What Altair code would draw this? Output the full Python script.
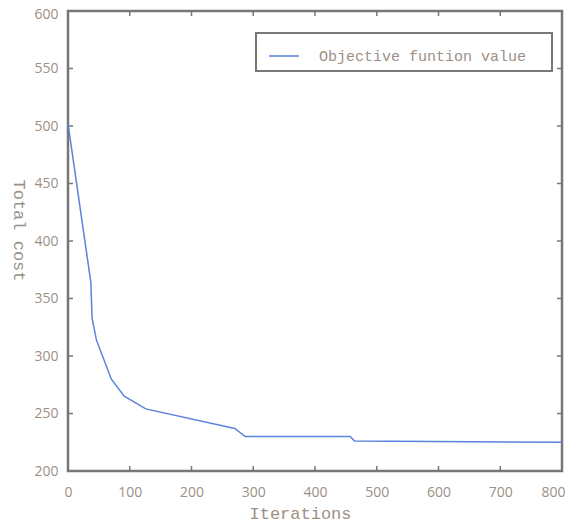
import altair as alt
import pandas as pd

# Data
iterations = [0, 37, 39, 46, 70, 91, 126, 270, 287, 457, 464, 800]
total_cost = [502, 364, 333, 314, 280, 265, 254, 237, 230, 230, 226, 225]
series_name = "Objective funtion value"

x_ticks = [0, 100, 200, 300, 400, 500, 600, 700, 800]
y_ticks = [200, 250, 300, 350, 400, 450, 500, 550, 600]

W, H = 494, 460
LINE_COLOR = "#5b82dc"
FRAME = "#777777"
TEXT = "#9c9085"
MONO = "Liberation Mono"
SANS = "Open Sans"

df = pd.DataFrame({"it": iterations, "cost": total_cost, "s": [series_name] * len(iterations)})
xt = pd.DataFrame({"v": x_ticks})
yt = pd.DataFrame({"v": y_ticks})

xscale = alt.Scale(domain=[0, 800], nice=False, zero=False)
yscale = alt.Scale(domain=[200, 600], nice=False, zero=False)

xaxis = alt.Axis(values=x_ticks, title="Iterations", grid=False, domain=False, ticks=False,
                 tickSize=0, labelPadding=14, labelFont=SANS, labelFontSize=14,
                 labelColor=TEXT,
                 labelAlign={"condition": {"test": "datum.value == 800", "value": "right"},
                             "value": "center"},
                 labelOffset={"condition": {"test": "datum.value == 800", "value": 3},
                              "value": 0},
                 titleFont=MONO, titleFontSize=17, titleFontWeight="normal",
                 titleColor=TEXT, titleX=232, titleY=42, titleBaseline="middle", titleAnchor="middle")
yaxis = alt.Axis(values=y_ticks, title="Total cost", grid=False, domain=False, ticks=False,
                 tickSize=0, labelPadding=10, labelFont=SANS, labelFontSize=14,
                 labelColor=TEXT,
                 labelOffset={"condition": {"test": "datum.value == 600", "value": 3},
                              "value": 0},
                 titleFont=MONO, titleFontSize=17, titleFontWeight="normal",
                 titleColor=TEXT, titleAngle=90, titleX=-50, titleY=219,
                 titleBaseline="middle", titleAnchor="middle")

line = alt.Chart(df).mark_line(strokeWidth=1.5).encode(
    x=alt.X("it:Q", scale=xscale, axis=xaxis),
    y=alt.Y("cost:Q", scale=yscale, axis=yaxis),
    color=alt.Color("s:N", scale=alt.Scale(range=[LINE_COLOR]),
                    legend=alt.Legend(title=None, orient="none", legendX=188, legendY=22,
                                      symbolType="stroke", symbolSize=900, symbolStrokeWidth=1.5,
                                      symbolOffset=5,
                                      labelFont=MONO, labelFontSize=15, labelColor=TEXT,
                                      labelOffset=19, padding=7, labelLimit=500)),
)

# legend frame (decoration)
legend_box = alt.Chart(pd.DataFrame({"k": [0]})).mark_rect(
    fill="white", stroke=FRAME, strokeWidth=2).encode(
    x=alt.value(188), x2=alt.value(484), y=alt.value(22), y2=alt.value(60))

tick_style = dict(color=FRAME, strokeWidth=1.5)
xb = alt.Chart(xt).mark_rule(**tick_style).encode(
    x=alt.X("v:Q", scale=xscale), y=alt.value(H), y2=alt.value(H - 5))
xtop = alt.Chart(xt).mark_rule(**tick_style).encode(
    x=alt.X("v:Q", scale=xscale), y=alt.value(0), y2=alt.value(5))
yl = alt.Chart(yt).mark_rule(**tick_style).encode(
    y=alt.Y("v:Q", scale=yscale), x=alt.value(0), x2=alt.value(5))
yr = alt.Chart(yt).mark_rule(**tick_style).encode(
    y=alt.Y("v:Q", scale=yscale), x=alt.value(W), x2=alt.value(W - 5))

chart = alt.layer(xb, xtop, yl, yr, legend_box, line).properties(
    width=W, height=H,
    padding={"left": 60, "top": 3, "right": 3, "bottom": 52},
    autosize=alt.AutoSizeParams(type="none"),
    background="white",
).configure_view(stroke=FRAME, strokeWidth=2.5)

chart.save("out.html", embed_options={"renderer": "svg", "actions": False})
